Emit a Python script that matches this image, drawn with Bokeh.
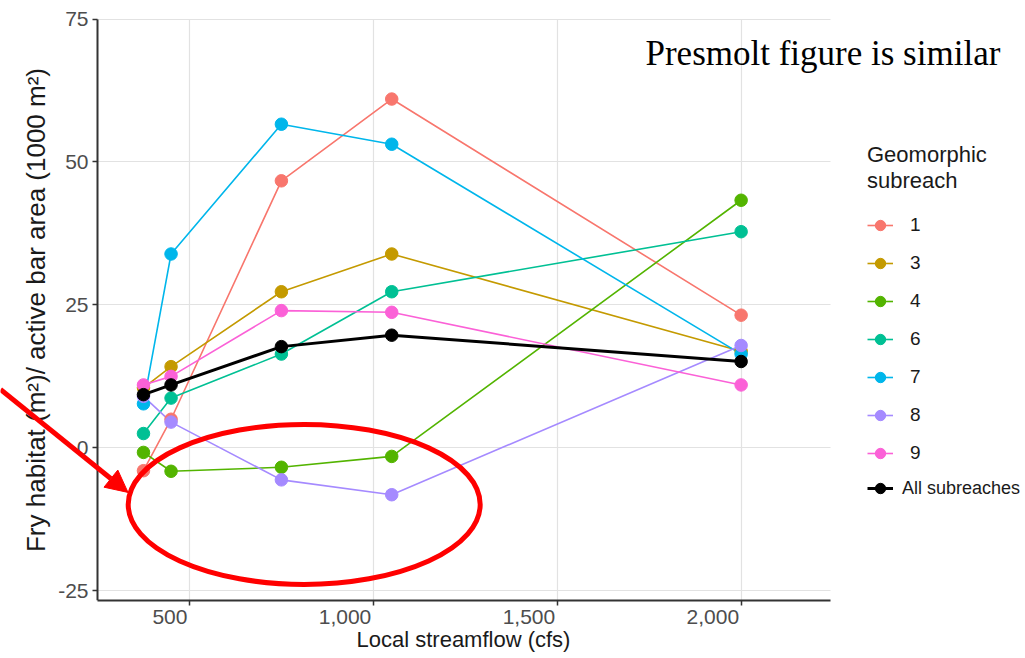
from bokeh.plotting import figure
from bokeh.models import (Legend, LegendItem, Range1d, FixedTicker, Arrow, LinearAxis,
                          NormalHead, Label, Title, CustomLabelingPolicy)
from bokeh.embed import file_html
from bokeh.resources import INLINE

# ---- data ----
streamflow = [375, 450, 750, 1050, 2000]
sub_labels = ["1", "3", "4", "6", "7", "8", "9"]
sub1 = [-4.0, 5.0, 46.7, 61.0, 23.2]
sub3 = [10.5, 14.2, 27.3, 33.9, 16.9]
sub4 = [-0.8, -4.1, -3.4, -1.5, 43.3]
sub6 = [2.5, 8.7, 16.4, 27.3, 37.8]
sub7 = [7.7, 33.9, 56.6, 53.1, 16.4]
sub8 = [9.0, 4.5, -5.6, -8.2, 17.9]
sub9 = [11.0, 12.5, 24.0, 23.7, 11.0]
all_sub = [9.3, 11.0, 17.7, 19.7, 15.1]
sub_colors = ["#F8766D", "#C49A00", "#53B400", "#00C094", "#00B6EB", "#A58AFF", "#FB61D7"]
x_ticks = [500, 1000, 1500, 2000]
x_tick_labels = ["500", "1,000", "1,500", "2,000"]
y_ticks = [-25, 0, 25, 50, 75]
y_tick_labels = ["-25", "0", "25", "50", "75"]

series = [sub1, sub3, sub4, sub6, sub7, sub8, sub9]

FONT = "Liberation Sans"

# ---- layout geometry ----
X0, X_AXIS_END = 250, 2243          # extent of the drawn x axis (panel)
Y0, Y_AXIS_END = -26.7, 75          # extent of the drawn y axis (panel)
AXIS_PX = 733                       # pixel length of the x axis
PANEL_LEFT = 97                     # pixel position of the y axis line
PANEL_TOP = 18.5                    # pixel position of the top of the y axis
FRAME_W, FRAME_H = 1025, 600
ppu = AXIS_PX / (X_AXIS_END - X0)
X_START = X0 - PANEL_LEFT / ppu
X_END = X_START + FRAME_W / ppu
upp_y = (Y_AXIS_END - Y0) / (FRAME_H - PANEL_TOP)
Y_END = Y_AXIS_END + PANEL_TOP * upp_y

p = figure(frame_width=FRAME_W, frame_height=FRAME_H, output_backend="svg", toolbar_location=None,
           x_range=Range1d(X_START, X_END), y_range=Range1d(Y0, Y_END),
           min_border_left=0, min_border_right=0, min_border_top=0, min_border_bottom=58)
p.outline_line_color = None
p.background_fill_color = "white"
p.border_fill_color = "white"

for ax in (p.xaxis[0], p.yaxis[0]):
    ax.axis_line_color = "#333333"
    ax.axis_line_width = 2
    ax.major_tick_line_color = "#333333"
    ax.major_tick_line_width = 1.5
    ax.major_tick_out = 5
    ax.major_tick_in = 0
    ax.minor_tick_line_color = None
    ax.major_label_text_color = "#4d4d4d"
    ax.major_label_text_font = FONT
    ax.major_label_text_font_size = "21px"
    ax.axis_label_text_font_style = "normal"
    ax.axis_label_text_color = "#1a1a1a"

# x axis: line + ticks only
xa = p.xaxis[0]
xa.ticker = FixedTicker(ticks=x_ticks)
xa.bounds = (X0, X_AXIS_END)
xa.major_label_text_font_size = "0px"
xa.major_label_standoff = 0
xa.major_label_policy = CustomLabelingPolicy(code="return []")

# second x axis carrying the labels, right-aligned to the ticks like the reference
char_w = {",": 0.278}
label_pos = []
overrides = {}
for t, lab in zip(x_ticks, x_tick_labels):
    w = sum(char_w.get(c, 0.556) for c in lab) * 21
    pos = int(round(t - (w / 2 + 2) / ppu))
    label_pos.append(pos)
    overrides[pos] = lab
xb = LinearAxis(ticker=FixedTicker(ticks=label_pos), major_label_overrides=overrides,
                bounds=(X0, X_AXIS_END),
                axis_line_color=None, major_tick_line_color=None, minor_tick_line_color=None,
                major_tick_out=0, major_tick_in=0, major_label_standoff=4,
                major_label_text_color="#4d4d4d", major_label_text_font=FONT,
                major_label_text_font_size="21px")
p.add_layout(xb, "below")
p.add_layout(Title(text="Local streamflow (cfs)", align="left", offset=356,
                   vertical_align="top", standoff=0,
                   text_font=FONT, text_font_size="22px", text_font_style="normal",
                   text_color="#1a1a1a"), "below")

# y axis drawn at the left edge of the data panel, inside the canvas
ya = p.yaxis[0]
ya.fixed_location = X0
ya.ticker = FixedTicker(ticks=y_ticks)
ya.major_label_overrides = dict(zip(y_ticks, y_tick_labels))
ya.bounds = (Y0, Y_AXIS_END)
ya.major_label_standoff = 4
ya.axis_label = "Fry habitat (m²)/ active bar area (1000 m²)"
ya.axis_label_text_font = FONT
ya.axis_label_text_font_size = "26px"
ya.axis_label_standoff = 4

p.xgrid.grid_line_color = "#e2e2e2"
p.ygrid.grid_line_color = "#e2e2e2"
p.xgrid.grid_line_width = 1.2
p.ygrid.grid_line_width = 1.2
p.ygrid.cross_bounds = (X0, X_AXIS_END)
p.xgrid.cross_bounds = (Y0, Y_AXIS_END)

items = []
line_rs = []
for vals, col in zip(series, sub_colors):
    line_rs.append(p.line(streamflow, vals, line_color=col, line_width=1.6))
pt_rs = []
for vals, col in zip(series, sub_colors):
    pt_rs.append(p.scatter(streamflow, vals, size=12.5, fill_color=col, line_color=col))
for lab, lr, pr in zip(sub_labels, line_rs, pt_rs):
    items.append(LegendItem(label=lab, renderers=[lr, pr]))

lb = p.line(streamflow, all_sub, line_color="black", line_width=3)
pb = p.scatter(streamflow, all_sub, size=12.5, fill_color="black", line_color="black")

leg1 = Legend(items=items, location=(867, 132), title="Geomorphic\nsubreach",
              title_text_font=FONT, title_text_font_size="22px", title_text_font_style="normal",
              title_text_color="#1a1a1a", title_standoff=16,
              label_text_font=FONT, label_text_font_size="19px", label_text_color="#1a1a1a",
              glyph_width=26, glyph_height=30, label_height=30, spacing=8, label_standoff=17,
              padding=0, margin=0, border_line_color=None, background_fill_alpha=0)
leg2 = Legend(items=[LegendItem(label="All subreaches", renderers=[lb, pb])], location=(867, 97),
              label_text_font=FONT, label_text_font_size="18px", label_text_color="#1a1a1a",
              glyph_width=26, glyph_height=30, label_height=30, spacing=0, label_standoff=9,
              padding=0, margin=0, border_line_color=None, background_fill_alpha=0)
p.add_layout(leg1)
p.add_layout(leg2)

# ---- annotations (overlay) ----
p.ellipse(x=[812], y=[-9.9], width=352, height=160, width_units="screen", height_units="screen",
          fill_color=None, line_color="#ff0000", line_width=5)
p.add_layout(Arrow(x_start=X_START, y_start=10.2, x_end=333, y_end=-7.8, level="overlay",
                   line_color="#ff0000", line_width=5,
                   end=NormalHead(size=22, fill_color="#ff0000", line_color="#ff0000")))
p.add_layout(Label(x=1740, y=69.0, text="Presmolt figure is similar", text_font="Liberation Serif",
                   text_font_size="35px", text_color="black", text_baseline="alphabetic"))

open("out.html", "w").write(file_html(p, INLINE))
